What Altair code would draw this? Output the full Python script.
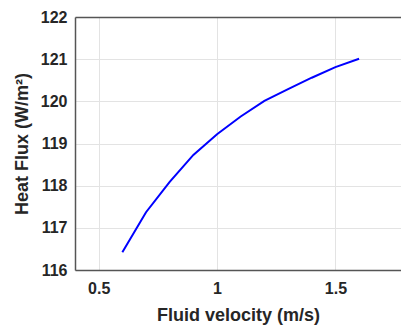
import altair as alt
import pandas as pd

velocity = [0.6, 0.7, 0.8, 0.9, 1.0, 1.1, 1.2, 1.3, 1.4, 1.5, 1.6]
heat_flux = [116.42, 117.37, 118.09, 118.73, 119.22, 119.64, 120.01, 120.29, 120.56, 120.81, 121.01]

x_ticks = [0.5, 1.0, 1.5]
y_ticks = [116, 117, 118, 119, 120, 121, 122]

df = pd.DataFrame({"v": velocity, "q": heat_flux})

FONT = "Liberation Sans"
AX = "#262626"

x_scale = alt.Scale(domain=[0.4, 1.777], nice=False, zero=False)
y_scale = alt.Scale(domain=[116, 122], nice=False, zero=False)

y_axis = alt.Axis(values=y_ticks, title="Heat Flux (W/m²)",
                  grid=True, gridColor="#e3e3e3", domainColor="#555555",
                  domainWidth=1.5, ticks=False, labelPadding=8,
                  labelFontSize=16, labelFontWeight="bold", labelColor=AX,
                  titleFontSize=18, titleFontWeight="bold", titleColor=AX,
                  titlePadding=9, labelFont=FONT, titleFont=FONT)

line = alt.Chart(df).mark_line(color="#0000ff", strokeWidth=2, clip=True).encode(
    x=alt.X("v:Q", scale=x_scale,
            axis=alt.Axis(values=x_ticks, title="Fluid velocity (m/s)",
                          labelExpr="datum.value == 1 ? '1' : format(datum.value, '.1f')",
                          grid=True, gridColor="#e3e3e3", domainColor="#555555",
                          domainWidth=1.5, ticks=False, labelPadding=10,
                          labelFontSize=16, labelFontWeight="bold", labelColor=AX,
                          titleFontSize=18, titleFontWeight="bold", titleColor=AX,
                          titlePadding=10, labelFont=FONT, titleFont=FONT)),
    y=alt.Y("q:Q", scale=y_scale, axis=y_axis),
)

top = alt.Chart(df).mark_line(opacity=0).encode(
    x=alt.X("v:Q", scale=x_scale,
            axis=alt.Axis(orient="top", values=x_ticks, labels=False, ticks=False,
                          grid=False, title=None, domainColor="#555555", domainWidth=1.5)),
    y=alt.Y("q:Q", scale=y_scale, axis=y_axis),
)

chart = alt.layer(line, top).resolve_axis(x="independent").properties(
    width=326, height=253,
    autosize=alt.AutoSizeParams(type="none"),
    padding={"left": 75, "top": 17, "right": 0, "bottom": 59},
    background="white",
).configure_view(stroke=None)

chart.save("out.html", embed_options={"renderer": "svg", "actions": False})
